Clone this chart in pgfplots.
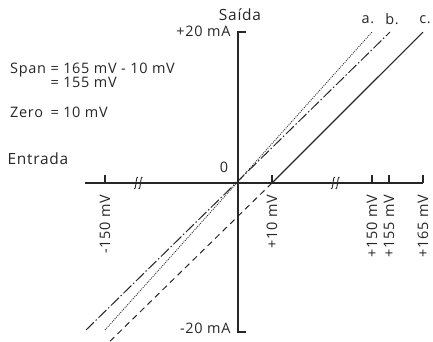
\documentclass[border=0pt]{standalone}
\usepackage{fontspec}
\setmainfont{Open Sans}[LetterSpace=5]
\usepackage{pgfplots}
\pgfplotsset{compat=1.18}
\definecolor{ink}{HTML}{262626}
\tikzset{lab/.style={font=\fontsize{14.5}{15}\selectfont, text=ink},
         big/.style={font=\fontsize{15.5}{17}\selectfont, text=ink}}
\begin{document}
\begin{tikzpicture}[x=1bp,y=1bp]
\useasboundingbox (0,0) rectangle (433,341);
\begin{axis}[at={(238bp,158bp)}, anchor=origin,
  hide axis, clip=false,
  x=1bp, y=7.5bp,
  xmin=-153, xmax=185, ymin=-20, ymax=20]
% axes
\addplot[ink, line width=1.3bp] coordinates {(8,20.13) (0,20.13) (0,-19.87) (8,-19.87)};
\addplot[ink, line width=1.3bp] coordinates {(-153,0) (185,0)};
% ticks
\addplot[ink, line width=1.1bp] coordinates {(-133,0) (-133,1.07)};
\addplot[ink, line width=1.1bp] coordinates {(34,0) (34,1.07)};
\addplot[ink, line width=1.1bp] coordinates {(134,0) (134,1.07)};
\addplot[ink, line width=1.1bp] coordinates {(151,0) (151,1.07)};
\addplot[ink, line width=1.1bp] coordinates {(185,0) (185,1.07)};
% lines
\addplot[ink, line width=1.1bp] coordinates {(34,0) (185,20.13)};
\addplot[ink, line width=1.0bp, dash pattern=on 6bp off 4.5bp] coordinates {(34,0) (-128,-21.1)};
\addplot[ink, line width=0.9bp, dash pattern=on 0.9bp off 1.2bp] coordinates {(-133,-19.6) (134,20.13)};
\addplot[ink, line width=1.0bp, dash pattern=on 11bp off 2.5bp on 1.5bp off 2.5bp] coordinates {(-152,-19.6) (152,20.13)};
% breaks
\draw[ink, line width=0.9bp] (-104,-0.733) .. controls (-101.7,-1.067) and (-102.3,1.067) .. (-100,0.733);
\draw[ink, line width=0.9bp] (-99.5,-0.733) .. controls (-97.2,-1.067) and (-97.8,1.067) .. (-95.5,0.733);
\draw[ink, line width=0.9bp] (93,-0.733) .. controls (95.3,-1.067) and (94.7,1.067) .. (97,0.733);
\draw[ink, line width=0.9bp] (97.5,-0.733) .. controls (99.8,-1.067) and (99.2,1.067) .. (101.5,0.733);
% tick labels
\node[lab, rotate=90, anchor=east] at (axis cs:-133,-1.1) {-150 mV};
\node[lab, rotate=90, anchor=east] at (axis cs:34,-1.1) {+10 mV};
\node[lab, rotate=90, anchor=east] at (axis cs:134,-1.1) {+150 mV};
\node[lab, rotate=90, anchor=east] at (axis cs:151,-1.1) {+155 mV};
\node[lab, rotate=90, anchor=east] at (axis cs:185,-1.1) {+165 mV};
\node[lab] at (axis cs:-14,2.1) {0};
\node[lab, anchor=east] at (axis cs:-4,20.2) {+20 mA};
\node[lab, anchor=east] at (axis cs:-4,-19.4) {-20 mA};
\node[lab] at (axis cs:130,21.8) {a.};
\node[lab] at (axis cs:154,21.8) {b.};
\node[lab] at (axis cs:187,21.8) {c.};
\node[big] at (axis cs:2,22.4) {Saída};
\node[big, anchor=west] at (axis cs:-234,3.3) {Entrada};
\node[lab, anchor=north west, inner sep=0pt] at (axis cs:-228,16) {%
  \begin{tabular}{@{}l@{ }l@{}}Span&= 165 mV - 10 mV\\[-1pt] &= 155 mV\\[15pt] Zero&= 10 mV\end{tabular}};
\end{axis}
\end{tikzpicture}
\end{document}
